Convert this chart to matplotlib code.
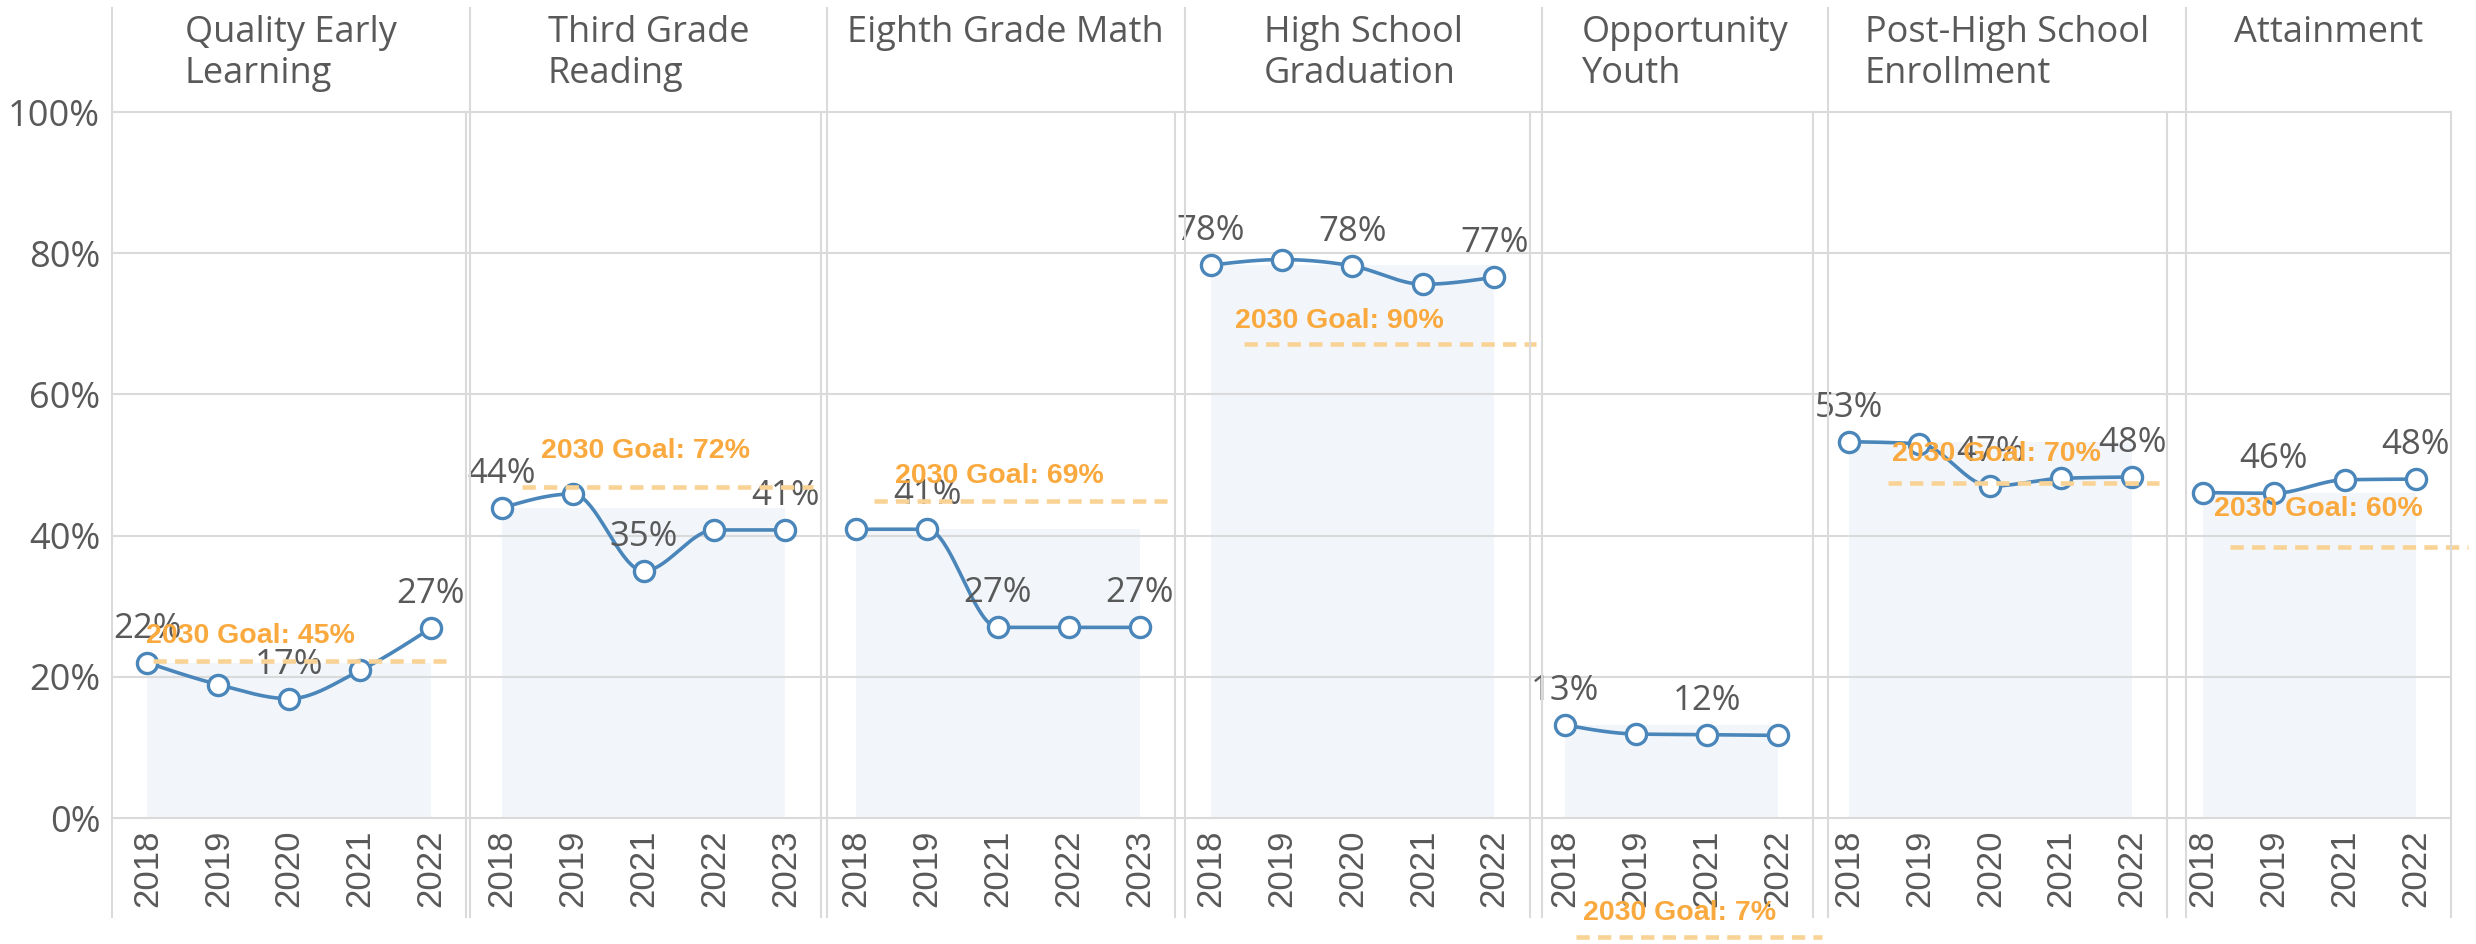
import numpy as np
import matplotlib.pyplot as plt
from matplotlib.lines import Line2D


# ---- data ----
titles = ['Quality Early\nLearning', 'Third Grade\nReading', 'Eighth Grade Math',
          'High School\nGraduation', 'Opportunity\nYouth',
          'Post-High School\nEnrollment', 'Attainment']

years_qel = ['2018', '2019', '2020', '2021', '2022']
years_tgr = ['2018', '2019', '2021', '2022', '2023']
years_egm = ['2018', '2019', '2021', '2022', '2023']
years_hsg = ['2018', '2019', '2020', '2021', '2022']
years_oy  = ['2018', '2019', '2021', '2022']
years_phs = ['2018', '2019', '2020', '2021', '2022']
years_att = ['2018', '2019', '2021', '2022']

rate_qel = [22.0, 18.9, 16.9, 20.9, 26.9]
rate_tgr = [43.9, 45.9, 35.0, 40.8, 40.8]
rate_egm = [40.9, 40.9, 27.0, 27.0, 27.0]
rate_hsg = [78.3, 79.1, 78.2, 75.6, 76.6]
rate_oy  = [13.2, 11.9, 11.8, 11.7]
rate_phs = [53.3, 53.0, 47.0, 48.1, 48.3]
rate_att = [46.1, 46.0, 47.9, 48.0]

# which points carry a value label
labelled = [[0, 2, 4], [0, 2, 4], [1, 2, 4], [0, 2, 4], [0, 2], [0, 2, 4], [1, 3]]

goal_text = ['2030 Goal: 45%', '2030 Goal: 72%', '2030 Goal: 69%', '2030 Goal: 90%',
             '2030 Goal: 7%', '2030 Goal: 70%', '2030 Goal: 60%']
# where the goal marks sit in the picture (y in %, x in year slots)
goal_line_y  = [22.2, 46.9, 44.9, 67.1, -16.9, 47.4, 38.4]
goal_line_x0 = [0.08, 0.28, 0.25, 0.47, 0.16, 0.55, 0.38]
goal_line_x1 = [4.21, 4.39, 4.38, 4.59, 3.62, 4.38, 3.74]
goal_text_x  = [-0.02, 0.55, 0.54, 0.35, 0.25, 0.61, 0.16]
goal_text_y  = [24.8, 51.0, 47.5, 69.4, -14.4, 50.5, 42.8]

yticks = [0, 20, 40, 60, 80, 100]

years = [years_qel, years_tgr, years_egm, years_hsg, years_oy, years_phs, years_att]
rates = [rate_qel, rate_tgr, rate_egm, rate_hsg, rate_oy, rate_phs, rate_att]

# ---- style ----
BLUE  = '#4A86BA'
GREY  = '#595959'
GRID  = '#DADADA'
FILL  = '#F2F6FA'
GOAL  = '#F9A93E'
GOALL = '#F9D396'
SANS  = ['Open Sans', 'DejaVu Sans']
ARIAL = ['Liberation Sans', 'DejaVu Sans']

W, H = 2476, 944
left_px, right_px = 112, 2451
top_px, zero_px, bottom_px, head_px = 112, 818, 917, 8
n_slots = sum(len(y) for y in years)
slot = (right_px - left_px) / n_slots
hslot = 71.5   # header table is a touch wider than the plot table


def monotone(x, y, n=40):
    # monotone cubic (like d3 curveMonotoneX)
    x = np.asarray(x, float)
    y = np.asarray(y, float)
    h = np.diff(x)
    s = np.diff(y) / h
    t = np.zeros_like(y)
    for i in range(1, len(y) - 1):
        p = (s[i-1] * h[i] + s[i] * h[i-1]) / (h[i-1] + h[i])
        sg = (1 if s[i-1] >= 0 else -1) + (1 if s[i] >= 0 else -1)
        t[i] = sg * min(abs(s[i-1]), abs(s[i]), 0.5 * abs(p))
    t[0] = (3 * s[0] - t[1]) / 2
    t[-1] = (3 * s[-1] - t[-2]) / 2
    xs, ys = [], []
    for i in range(len(y) - 1):
        u = np.linspace(0, 1, n)
        h00 = 2*u**3 - 3*u**2 + 1
        h10 = u**3 - 2*u**2 + u
        h01 = -2*u**3 + 3*u**2
        h11 = u**3 - u**2
        xs.append(x[i] + u * h[i])
        ys.append(h00*y[i] + h10*h[i]*t[i] + h01*y[i+1] + h11*h[i]*t[i+1])
    return np.concatenate(xs), np.concatenate(ys)


def vline(x, y0, y1):
    fig.add_artist(Line2D([x / W, x / W], [1 - y0 / H, 1 - y1 / H],
                          color=GRID, lw=1.5, zorder=1))


fig = plt.figure(figsize=(W / 100, H / 100), dpi=100)

cum = 0
for i, (yrs, vals) in enumerate(zip(years, rates)):
    n = len(yrs)
    x0 = left_px + cum * slot
    ax = fig.add_axes([x0 / W, 1 - zero_px / H, n * slot / W, (zero_px - top_px) / H])
    ax.set_facecolor('none')
    ax.set_xlim(-0.5, n - 0.5)
    ax.set_ylim(0, 100)
    for sp in ax.spines.values():
        sp.set_visible(False)

    for yt in yticks:
        ax.axhline(yt, color=GRID, lw=1.5, zorder=0.4, clip_on=False)

    xi = np.arange(n)
    ax.fill_between([0, n - 1], 0, vals[0], color=FILL, lw=0, zorder=0.3)

    xs, ys = monotone(xi, vals)
    ax.plot(xs, ys, color=BLUE, lw=2.6, zorder=3, solid_capstyle='round')
    ax.plot(xi, vals, 'o', ms=14.5, mfc='white', mec=BLUE, mew=2.4, zorder=4)

    for k in labelled[i]:
        ax.annotate(f'{round(vals[k])}%', (k, vals[k]), xytext=(0, 18),
                    textcoords='offset points', ha='center', va='baseline',
                    fontsize=25, color=GREY, family=SANS, zorder=5,
                    annotation_clip=False)

    ax.plot([goal_line_x0[i], goal_line_x1[i]], [goal_line_y[i]] * 2,
            color=GOALL, lw=3.3, dashes=(2.9, 1.8), clip_on=False, zorder=6)
    ax.text(goal_text_x[i], goal_text_y[i], goal_text[i], ha='left', va='baseline',
            fontsize=20.5, fontweight='bold', color=GOAL, family=ARIAL,
            zorder=7, clip_on=False)

    ax.set_xticks(xi)
    ax.set_xticklabels(yrs, rotation=90, fontsize=25, color=GREY, family=ARIAL)
    ax.tick_params(axis='x', length=0, pad=8.5)
    if i == 0:
        ax.set_yticks(yticks)
        ax.set_yticklabels([f'{v}%' for v in yticks], fontsize=26,
                           color=GREY, family=SANS)
        ax.tick_params(axis='y', length=0, pad=8.5)
    else:
        ax.set_yticks([])

    # header title, centred in its header cell
    cx = left_px + (cum + n / 2) * hslot
    fig.text(cx / W, 1 - 15 / H, titles[i], ha='center', va='top',
             multialignment='left', fontsize=26, color=GREY, family=SANS,
             linespacing=1.2)

    # panel borders in the plot table
    vline(x0 + n * slot, top_px, bottom_px)
    cum += n
    # header divider (slightly offset, runs the full height)
    if cum < n_slots:
        vline(left_px + cum * hslot, head_px, bottom_px)

vline(left_px, head_px, bottom_px)

fig.savefig('out.png', dpi=100)
